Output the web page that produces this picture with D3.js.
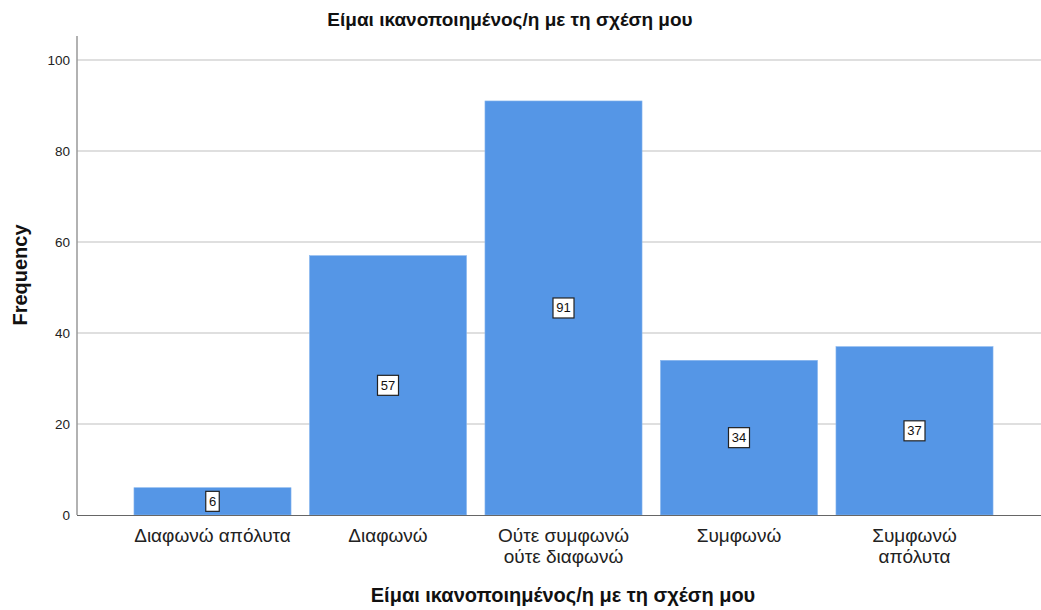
<!DOCTYPE html>
<html><head><meta charset="utf-8">
<script src="https://cdn.jsdelivr.net/npm/d3@7"></script>
<style>body{margin:0;background:#fff}svg{display:block}text{font-family:"Liberation Sans",Arial,sans-serif}</style>
</head><body><svg id="c" width="1041" height="610"></svg>
<script>
const categories = [["Διαφωνώ απόλυτα"],["Διαφωνώ"],["Ούτε συμφωνώ","ούτε διαφωνώ"],["Συμφωνώ"],["Συμφωνώ","απόλυτα"]];
const values = [6, 57, 91, 34, 37];
const yTicks = [0, 20, 40, 60, 80, 100];
const title = "Είμαι ικανοποιημένος/η με τη σχέση μου";
const xTitle = "Είμαι ικανοποιημένος/η με τη σχέση μου";
const yTitle = "Frequency";

const svg = d3.select("#c");
const x = d3.scaleBand().domain(d3.range(values.length)).range([124.75, 1002.25]).paddingInner(0.105).paddingOuter(0.0525);
const y = d3.scaleLinear().domain([0, 100]).range([515, 60]);
const axisTop = y(105.3);

// gridlines
svg.append("g").selectAll("line").data(yTicks.filter(d=>d>0)).join("line")
  .attr("x1", 77).attr("x2", 1041).attr("y1", d=>y(d)).attr("y2", d=>y(d))
  .attr("stroke", "#d4d4d4").attr("stroke-width", 1.5);

// bars
svg.append("g").selectAll("rect").data(values).join("rect")
  .attr("x", (d,i)=>x(i)).attr("width", x.bandwidth())
  .attr("y", d=>y(d)).attr("height", d=>y(0)-y(d))
  .attr("fill", "#5596e6").attr("stroke", "#8ab8ef").attr("stroke-width", 0.6);

// y axis
const yAxis = d3.axisLeft(y).tickValues(yTicks).tickSize(0).tickPadding(7);
const ga = svg.append("g").attr("transform", "translate(77,0)").call(yAxis);
ga.select(".domain").remove();
ga.selectAll("text").attr("font-size", 13.5).attr("fill", "#222").style("font-family", '"Liberation Sans",Arial,sans-serif');
svg.append("line").attr("x1", 77).attr("x2", 77).attr("y1", axisTop).attr("y2", 515).attr("stroke", "#999").attr("stroke-width", 1.5);
svg.append("line").attr("x1", 77).attr("x2", 1041).attr("y1", 515.5).attr("y2", 515.5).attr("stroke", "#666").attr("stroke-width", 1.2);

// x axis labels
const gx = svg.append("g");
categories.forEach((lines, i) => {
  const t = gx.append("text").attr("x", x(i)+x.bandwidth()/2).attr("y", 542)
    .attr("text-anchor", "middle").attr("font-size", 19).attr("fill", "#222");
  lines.forEach((l, j) => t.append("tspan").attr("x", x(i)+x.bandwidth()/2).attr("dy", j===0?0:21).text(l));
});

// value labels
const lg = svg.append("g");
values.forEach((v, i) => {
  const cx = x(i)+x.bandwidth()/2, cy = y(v/2);
  const txt = String(v);
  const w = txt.length*7.5 + 6;
  lg.append("rect").attr("x", cx - w/2).attr("y", cy-10).attr("width", w).attr("height", 20)
    .attr("fill", "#fff").attr("stroke", "#222").attr("stroke-width", 1.2);
  lg.append("text").attr("x", cx).attr("y", cy+4.5).attr("text-anchor", "middle")
    .attr("font-size", 13).attr("fill", "#111").text(txt);
});

// titles
svg.append("text").attr("x", 510).attr("y", 26).attr("text-anchor", "middle")
  .attr("font-size", 19).attr("font-weight", "bold").attr("fill", "#111").text(title);
svg.append("text").attr("x", 563).attr("y", 602).attr("text-anchor", "middle")
  .attr("font-size", 20).attr("font-weight", "bold").attr("fill", "#111").text(xTitle);
svg.append("text").attr("transform", "translate(27,275) rotate(-90)").attr("text-anchor", "middle")
  .attr("font-size", 20).attr("font-weight", "bold").attr("fill", "#111").text(yTitle);
</script></body></html>
